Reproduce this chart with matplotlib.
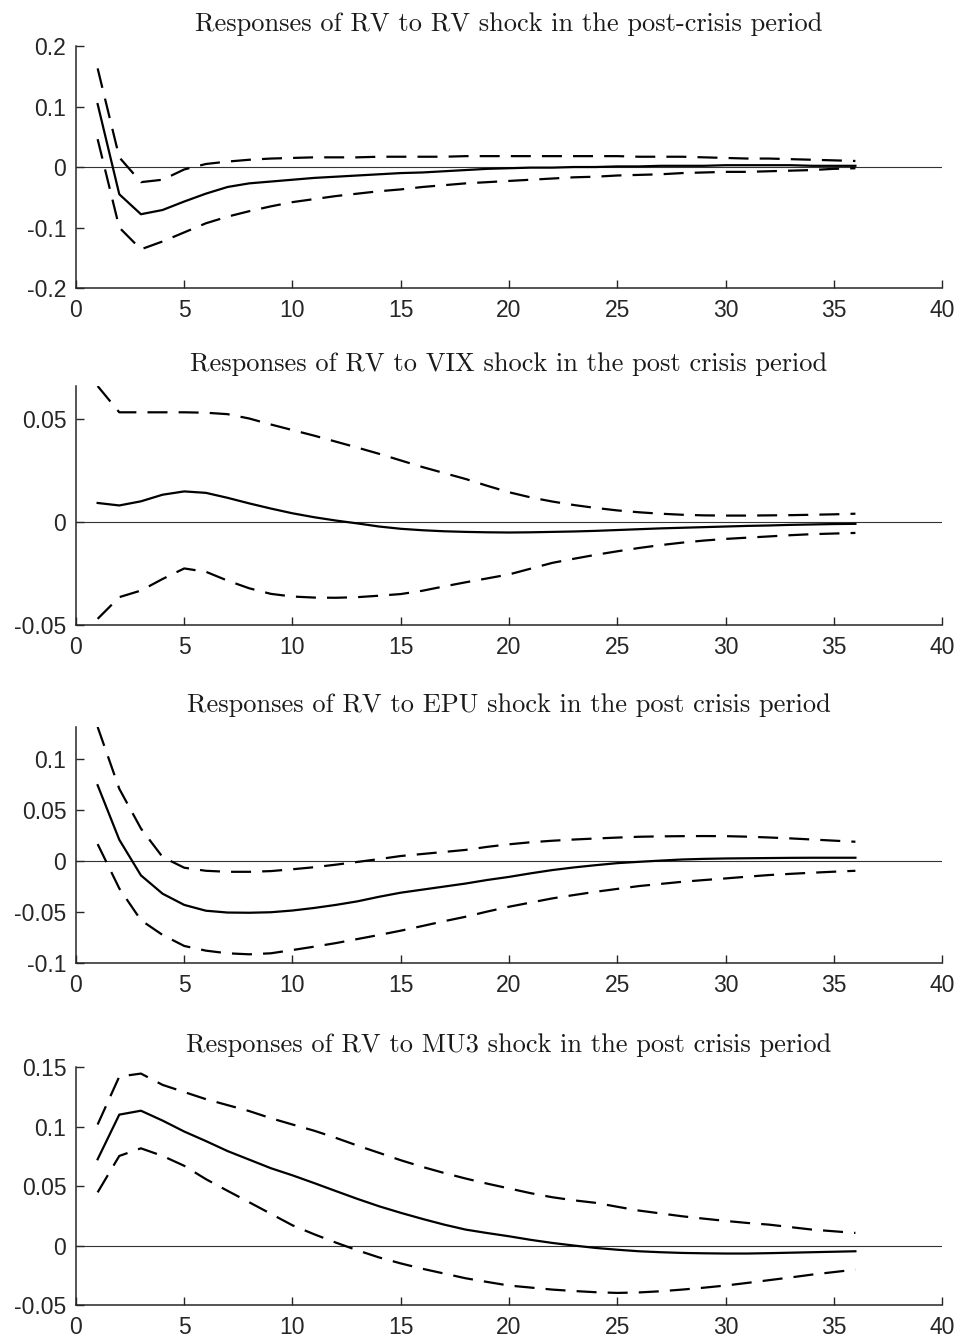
import numpy as np
import matplotlib
matplotlib.use("Agg")
import matplotlib.pyplot as plt

# impulse response horizon (months)
horizon = np.arange(1, 37)

rv_mid = [0.104, -0.045, -0.078, -0.071, -0.057, -0.044, -0.033, -0.027, -0.024, -0.021,
          -0.018, -0.016, -0.014, -0.012, -0.010, -0.009, -0.007, -0.005, -0.003, -0.002,
          -0.001, -0.001, 0.000, 0.000, 0.001, 0.001, 0.002, 0.002, 0.002, 0.003,
          0.003, 0.003, 0.003, 0.002, 0.002, 0.002]
rv_up = [0.163, 0.016, -0.025, -0.021, -0.004, 0.005, 0.009, 0.012, 0.014, 0.015,
         0.016, 0.016, 0.016, 0.017, 0.017, 0.017, 0.017, 0.018, 0.018, 0.018,
         0.018, 0.018, 0.018, 0.018, 0.018, 0.017, 0.017, 0.017, 0.016, 0.015,
         0.014, 0.014, 0.013, 0.012, 0.011, 0.010]
rv_lo = [0.046, -0.100, -0.136, -0.123, -0.108, -0.093, -0.082, -0.073, -0.065, -0.058,
         -0.053, -0.048, -0.044, -0.040, -0.037, -0.033, -0.030, -0.027, -0.025, -0.023,
         -0.021, -0.019, -0.017, -0.016, -0.014, -0.013, -0.012, -0.010, -0.009, -0.008,
         -0.008, -0.007, -0.006, -0.005, -0.003, -0.002]

vix_mid = [0.0091, 0.0079, 0.0099, 0.0131, 0.0147, 0.0140, 0.0116, 0.0089, 0.0064, 0.0041,
           0.0022, 0.0006, -0.0008, -0.0023, -0.0034, -0.0041, -0.0046, -0.0049, -0.0051, -0.0052,
           -0.0051, -0.0049, -0.0047, -0.0044, -0.0040, -0.0036, -0.0032, -0.0029, -0.0026, -0.0023,
           -0.0020, -0.0018, -0.0015, -0.0013, -0.0011, -0.0010]
vix_up = [0.0657, 0.0530, 0.0530, 0.0530, 0.0530, 0.0528, 0.0521, 0.0500, 0.0471, 0.0444,
          0.0417, 0.0388, 0.0359, 0.0329, 0.0297, 0.0265, 0.0236, 0.0207, 0.0174, 0.0143,
          0.0118, 0.0098, 0.0081, 0.0067, 0.0055, 0.0046, 0.0039, 0.0034, 0.0031, 0.0030,
          0.0030, 0.0031, 0.0032, 0.0034, 0.0036, 0.0039]
vix_lo = [-0.0470, -0.0365, -0.0333, -0.0277, -0.0226, -0.0242, -0.0285, -0.0322, -0.0349, -0.0362,
          -0.0367, -0.0368, -0.0365, -0.0358, -0.0350, -0.0334, -0.0313, -0.0293, -0.0274, -0.0255,
          -0.0227, -0.0199, -0.0179, -0.0160, -0.0143, -0.0127, -0.0113, -0.0101, -0.0091, -0.0083,
          -0.0077, -0.0071, -0.0065, -0.0060, -0.0057, -0.0054]

epu_mid = [0.0745, 0.0210, -0.0140, -0.0320, -0.0430, -0.0487, -0.0505, -0.0507, -0.0502, -0.0485,
           -0.0460, -0.0430, -0.0395, -0.0350, -0.0310, -0.0280, -0.0250, -0.0220, -0.0185, -0.0155,
           -0.0120, -0.0088, -0.0062, -0.0040, -0.0020, -0.0007, 0.0005, 0.0016, 0.0022, 0.0026,
           0.0028, 0.0030, 0.0032, 0.0033, 0.0033, 0.0033]
epu_up = [0.1317, 0.0710, 0.0320, 0.0040, -0.0065, -0.0095, -0.0105, -0.0105, -0.0098, -0.0080,
          -0.0060, -0.0035, -0.0008, 0.0020, 0.0050, 0.0070, 0.0090, 0.0110, 0.0140, 0.0165,
          0.0185, 0.0200, 0.0212, 0.0222, 0.0231, 0.0239, 0.0243, 0.0245, 0.0246, 0.0245,
          0.0240, 0.0232, 0.0223, 0.0212, 0.0201, 0.0190]
epu_lo = [0.0167, -0.0268, -0.0580, -0.0725, -0.0833, -0.0879, -0.0905, -0.0915, -0.0905, -0.0873,
          -0.0840, -0.0805, -0.0765, -0.0725, -0.0683, -0.0637, -0.0590, -0.0546, -0.0495, -0.0448,
          -0.0407, -0.0366, -0.0333, -0.0301, -0.0273, -0.0245, -0.0224, -0.0203, -0.0186, -0.0170,
          -0.0153, -0.0137, -0.0125, -0.0114, -0.0104, -0.0095]

mu3_mid = [0.0725, 0.1100, 0.1133, 0.1050, 0.0958, 0.0878, 0.0794, 0.0722, 0.0650, 0.0590,
           0.0525, 0.0458, 0.0392, 0.0330, 0.0275, 0.0224, 0.0176, 0.0134, 0.0105, 0.0078,
           0.0048, 0.0022, 0.0000, -0.0020, -0.0035, -0.0048, -0.0056, -0.0062, -0.0065, -0.0067,
           -0.0067, -0.0064, -0.0060, -0.0056, -0.0052, -0.0048]
mu3_up = [0.1017, 0.1420, 0.1445, 0.1350, 0.1290, 0.1230, 0.1180, 0.1130, 0.1070, 0.1017,
          0.0965, 0.0905, 0.0840, 0.0779, 0.0717, 0.0661, 0.0610, 0.0563, 0.0520, 0.0480,
          0.0440, 0.0406, 0.0380, 0.0359, 0.0326, 0.0294, 0.0270, 0.0246, 0.0226, 0.0207,
          0.0190, 0.0176, 0.0155, 0.0134, 0.0120, 0.0106]
mu3_lo = [0.0447, 0.0753, 0.0817, 0.0753, 0.0670, 0.0558, 0.0460, 0.0364, 0.0267, 0.0170,
          0.0095, 0.0025, -0.0040, -0.0100, -0.0150, -0.0195, -0.0235, -0.0275, -0.0306, -0.0336,
          -0.0353, -0.0370, -0.0382, -0.0392, -0.0398, -0.0394, -0.0384, -0.0370, -0.0354, -0.0336,
          -0.0314, -0.0291, -0.0268, -0.0244, -0.0223, -0.0202]

titles = [
    "Responses of RV to RV shock in the post-crisis period",
    "Responses of RV to VIX shock in the post crisis period",
    "Responses of RV to EPU shock in the post crisis period",
    "Responses of RV to MU3 shock in the post crisis period",
]
ylims = [(-0.2, 0.2), (-0.05, 0.0657), (-0.1, 0.1317), (-0.05, 0.15)]
yticks = [
    [-0.2, -0.1, 0, 0.1, 0.2],
    [-0.05, 0, 0.05],
    [-0.1, -0.05, 0, 0.05, 0.1],
    [-0.05, 0, 0.05, 0.1, 0.15],
]
yticklabels = [
    ["-0.2", "-0.1", "0", "0.1", "0.2"],
    ["-0.05", "0", "0.05"],
    ["-0.1", "-0.05", "0", "0.05", "0.1"],
    ["-0.05", "0", "0.05", "0.1", "0.15"],
]
xticks = [0, 5, 10, 15, 20, 25, 30, 35, 40]

responses = [
    (rv_mid, rv_up, rv_lo),
    (vix_mid, vix_up, vix_lo),
    (epu_mid, epu_up, epu_lo),
    (mu3_mid, mu3_up, mu3_lo),
]

# axes rectangles: left, bottom, width, height
rects = [
    [0.0789, 0.7852, 0.8993, 0.1805],
    [0.0789, 0.5339, 0.8993, 0.1782],
    [0.0789, 0.2819, 0.8993, 0.1760],
    [0.0789, 0.0268, 0.8993, 0.1775],
]

axis_col = (0.15, 0.15, 0.15)

fig = plt.figure(figsize=(9.63, 13.41), dpi=100)

for i in range(4):
    ax = fig.add_axes(rects[i])
    mid, up, lo = responses[i]
    ax.axhline(0, color="0.2", lw=0.8, zorder=1)
    ax.plot(horizon, mid, color="black", lw=1.6, zorder=3)
    ax.plot(horizon, up, color="black", lw=1.6, dashes=(9, 5), zorder=3)
    ax.plot(horizon, lo, color="black", lw=1.6, dashes=(9, 5), zorder=3)

    ax.set_xlim(0, 40)
    ax.set_ylim(*ylims[i])
    ax.set_xticks(xticks)
    ax.set_xticklabels([str(x) for x in xticks])
    ax.set_yticks(yticks[i])
    ax.set_yticklabels(yticklabels[i])

    for side in ["top", "right"]:
        ax.spines[side].set_visible(False)
    for side in ["left", "bottom"]:
        ax.spines[side].set_color(axis_col)
        ax.spines[side].set_linewidth(1.1)
    ax.tick_params(direction="in", length=6, width=1.0, color=axis_col,
                   labelcolor=axis_col, labelsize=16.5)
    ax.tick_params(axis="x", pad=8)
    ax.tick_params(axis="y", pad=7)
    for lab in ax.get_xticklabels() + ax.get_yticklabels():
        lab.set_fontfamily("Liberation Sans")

    ax.set_title(titles[i], fontfamily="cmr10", fontsize=19, pad=11, color="0.1")

fig.savefig("out.png", dpi=100)
